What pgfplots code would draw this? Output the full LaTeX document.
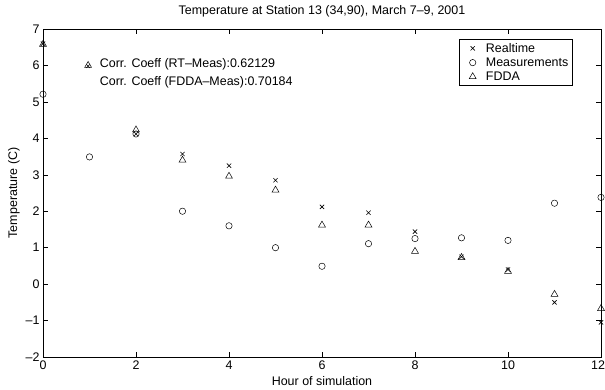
\documentclass[border=0pt]{standalone}
\usepackage{fontspec}
\setmainfont{Liberation Sans}
\usepackage{pgfplots}
\pgfplotsset{compat=1.18}
\newcommand{\fs}{\fontsize{12.5}{15}\selectfont}
\begin{document}
\begin{tikzpicture}
\begin{axis}[
 scale only axis, width=558bp, height=328bp,
 xmin=0,xmax=12,ymin=-2,ymax=7,
 xtick={0,2,...,12}, ytick={-2,-1,...,7},
 xticklabels={0,2,4,6,8,10,\makebox[0pt][r]{12\hspace{-3bp}}\phantom{12}},
 xticklabels={0,2,4,6,8,10,\hspace*{-6bp}12},
 yticklabels={--2,--1,0,1,2,3,4,5,6,7},
 tick align=inside, major tick length=5bp,
 every tick/.style={black, line width=0.5pt},
 axis line style={line width=0.6pt},
 tick label style={font=\fs},
 /pgf/number format/assume math mode=true,
 title={Temperature at Station 13 (34,90), March 7--9, 2001},
 title style={font=\fs, at={(axis description cs:0.5,1)}, anchor=center, yshift=12bp},
 xlabel={Hour of simulation},
 xlabel style={font=\fs, at={(axis description cs:0.5,0)}, anchor=center, yshift=-24bp},
 ylabel={Temperature (C)},
 ylabel style={font=\fs, at={(axis description cs:-0.052,0.5)}, anchor=center},
 legend style={at={(0.949,0.970)}, anchor=north east, draw=black, line width=0.5pt, font=\fs, row sep=0bp, inner sep=2bp},
 legend image code/.code={\path (-11bp,0) (11bp,0); \draw[mark repeat=2,mark phase=2,#1] plot coordinates {(-5bp,0) (0bp,0) (5bp,0)};},
 legend cell align=left,
 clip=false,
]
\addplot[only marks, mark=x, mark size=3pt, mark options={black, line width=0.6pt}] coordinates {
(0,6.60) (2,4.12) (3,3.57) (4,3.25) (5,2.85) (6,2.12) (7,1.96) (8,1.44) (9,0.75) (10,0.40) (11,-0.50) (12,-1.05)};
\addlegendentry{Realtime}
\addplot[only marks, mark=o, mark size=3.2pt, mark options={black, line width=0.5pt}] coordinates {
(0,5.21) (1,3.49) (2,4.12) (3,2.00) (4,1.60) (5,1.00) (6,0.49) (7,1.11) (8,1.25) (9,1.27) (10,1.20) (11,2.22) (12,2.38)};
\addlegendentry{Measurements}
\addplot[only marks, mark=triangle, mark size=4pt, mark options={black, line width=0.5pt}] coordinates {
(0,6.58) (2,4.23) (3,3.40) (4,2.96) (5,2.58) (6,1.62) (7,1.62) (8,0.90) (9,0.73) (10,0.35) (11,-0.28) (12,-0.67)};
\addlegendentry{FDDA}
\addplot[only marks, mark=triangle, mark size=4pt, mark options={black, line width=0.5pt}, forget plot] coordinates {(0.97,6.0)};
\addplot[only marks, mark=x, mark size=2.5pt, mark options={black, line width=0.6pt}, forget plot] coordinates {(0.97,5.98)};
\node[anchor=west, font=\fs, inner sep=0pt] at (axis cs:1.22,6.03) {Corr. Coeff (RT--Meas):0.62129};
\node[anchor=west, font=\fs, inner sep=0pt] at (axis cs:1.22,5.55) {Corr. Coeff (FDDA--Meas):0.70184};
\end{axis}
\pgfresetboundingbox
\useasboundingbox (-43bp,-33bp) rectangle (562bp,357bp);
\end{tikzpicture}
\end{document}
